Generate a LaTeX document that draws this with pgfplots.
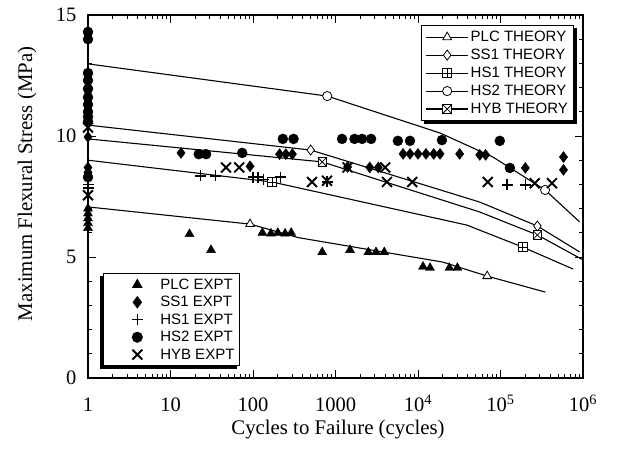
\documentclass[border=0pt]{standalone}
\usepackage{fontspec}
\setmainfont{Liberation Serif}
\setsansfont{Liberation Sans}
\usepackage{pgfplots}
\pgfplotsset{compat=1.18}

\pgfdeclareplotmark{sqplus}{%
 \pgfpathrectangle{\pgfqpoint{-\pgfplotmarksize}{-\pgfplotmarksize}}{\pgfqpoint{2\pgfplotmarksize}{2\pgfplotmarksize}}%
 \pgfusepathqfillstroke
 \pgfpathmoveto{\pgfqpoint{-\pgfplotmarksize}{0pt}}\pgfpathlineto{\pgfqpoint{\pgfplotmarksize}{0pt}}%
 \pgfpathmoveto{\pgfqpoint{0pt}{-\pgfplotmarksize}}\pgfpathlineto{\pgfqpoint{0pt}{\pgfplotmarksize}}%
 \pgfusepathqstroke}
\pgfdeclareplotmark{sqx}{%
 \pgfpathrectangle{\pgfqpoint{-\pgfplotmarksize}{-\pgfplotmarksize}}{\pgfqpoint{2\pgfplotmarksize}{2\pgfplotmarksize}}%
 \pgfusepathqfillstroke
 \pgfpathmoveto{\pgfqpoint{-\pgfplotmarksize}{-\pgfplotmarksize}}\pgfpathlineto{\pgfqpoint{\pgfplotmarksize}{\pgfplotmarksize}}%
 \pgfpathmoveto{\pgfqpoint{-\pgfplotmarksize}{\pgfplotmarksize}}\pgfpathlineto{\pgfqpoint{\pgfplotmarksize}{-\pgfplotmarksize}}%
 \pgfusepathqstroke}

\begin{document}
\begin{tikzpicture}
\begin{axis}[scale only axis, width=495pt, height=363pt, xmode=log,
  xmin=1, xmax=1e6, ymin=0, ymax=15, name=main,
  xtick={1,10,100,1000,10000,100000,1000000},
  xticklabels={1,10,100,1000,10\textsuperscript{4},10\textsuperscript{5},10\textsuperscript{6}},
  ytick={0,5,10,15}, yticklabels={0,5,10,15},
  minor y tick num=4,
  tick label style={font=\fontsize{20.5}{20.5}\selectfont},
  xticklabel style={text height=14pt, text depth=0pt},
  xticklabel shift=16pt,
  yticklabel shift=8pt,
  axis line style={line width=1.3pt},
  tick style={black, line width=0.8pt},
  major tick length=8pt, minor tick length=4pt,
  every axis x label/.style={at={(axis description cs:0.505,-0.143)}, anchor=center, font=\fontsize{20.8}{21}\selectfont},
  every axis y label/.style={at={(axis description cs:-0.1232,0.535)}, rotate=90, anchor=center, font=\fontsize{20.8}{21}\selectfont},
  xlabel={Cycles to Failure (cycles)},
  ylabel={Maximum Flexural Stress (MPa)},
  legend image code/.code={\draw[mark repeat=2,mark phase=2,#1] plot coordinates {(0pt,0pt)(21pt,0pt)(42pt,0pt)};},
  legend style={name=legA, at={(0.673,0.972)}, anchor=north west, draw=black, line width=1pt, fill=white,
    font=\fontsize{15}{17}\sffamily, row sep=2pt, inner xsep=4pt, inner ysep=3.5pt},
  legend cell align=left,
]
\addplot[black, line width=1.1pt, mark options={fill=white, solid, line width=0.8pt}, mark=triangle*, mark size=5pt, mark indices={2,5}] coordinates {
 (1,7.07) (92,6.36) (355,5.8) (20000,4.79) (69000,4.21) (350000,3.55)};
\addlegendentry{PLC THEORY}
\addplot[black, line width=1.1pt, mark options={fill=white, solid, line width=0.8pt}, mark=diamond*, mark size=5pt, mark indices={2,4}] coordinates {
 (1,10.45) (500,9.42) (56000,7.27) (280000,6.28) (910000,5.21)};
\addlegendentry{SS1 THEORY}
\addplot[black, line width=1.1pt, mark options={fill=white, solid, line width=0.8pt}, mark=sqplus, mark size=4.3pt, mark indices={2,4}] coordinates {
 (1,9.0) (170,8.1) (39000,6.32) (186000,5.41) (760000,4.5)};
\addlegendentry{HS1 THEORY}
\addplot[black, line width=1.1pt, mark options={fill=white, solid, line width=0.8pt}, mark=*, mark size=4.6pt, mark indices={2,5}] coordinates {
 (1,12.98) (794,11.65) (18600,10.12) (81000,9.13) (347000,7.77) (910000,6.45)};
\addlegendentry{HS2 THEORY}
\addplot[black, line width=1.1pt, mark options={fill=white, solid, line width=0.8pt}, mark=sqx, mark size=4.3pt, mark indices={2,4}] coordinates {
 (1,9.88) (690,8.93) (56000,6.86) (280000,5.91) (1000000,4.88)};
\addlegendentry{HYB THEORY}
\end{axis}

\begin{axis}[scale only axis, width=495pt, height=363pt, xmode=log,
  xmin=1, xmax=1e6, ymin=0, ymax=15, hide axis,
  legend image code/.code={\path (0pt,0pt) (50pt,0pt); \draw[#1] plot coordinates {(30pt,0pt)};},
  legend style={name=legB, at={(0.03,0.033)}, anchor=south west, draw=black, line width=1pt, fill=white,
    font=\fontsize{15}{17}\sffamily, row sep=1.5pt, inner xsep=3pt, inner ysep=3pt},
  legend cell align=left,
]
\addplot[only marks, black, mark=triangle*, mark size=5.2pt] coordinates {
 (1,7.0) (1,6.8) (1,6.6) (1,6.4) (1,6.2)
 (17,5.95) (31,5.29) (130,6.0) (165,5.97) (200,6.0) (245,5.97) (290,6.0)
 (690,5.2) (1500,5.29) (2500,5.2) (3100,5.2) (3900,5.2)
 (11500,4.6) (14000,4.55) (24000,4.55) (30000,4.55)};
\addlegendentry{PLC EXPT}
\addplot[only marks, black, mark=diamond*, mark size=5.5pt] coordinates {
 (1,9.96) (1,8.7) (1,8.5)
 (13.4,9.3) (92,8.75) (210,9.25) (250,9.25) (300,9.25)
 (1400,8.72) (2600,8.7) (3300,8.7)
 (6600,9.26) (8000,9.26) (10000,9.26) (12500,9.26) (15500,9.26) (18500,9.26)
 (32000,9.26) (56000,9.22) (66000,9.22) (200000,8.68) (580000,9.13) (580000,8.6)};
\addlegendentry{SS1 EXPT}
\addplot[only marks, black, mark=+, mark size=5.5pt, line width=1.4pt] coordinates {
 (1,8.0) (1,7.85)
 (23,8.35) (35,8.35) (100,8.3) (115,8.3) (135,8.2) (215,8.3)
 (790,8.1) (120000,7.98) (200000,7.98)};
\addlegendentry{HS1 EXPT}
\addplot[only marks, black, mark=*, mark size=5pt] coordinates {
 (1,14.3) (1,14.0) (1,12.6) (1,12.3) (1,11.95) (1,11.6) (1,11.3) (1,11.0) (1,10.8) (1,10.6) (1,8.3)
 (22,9.25) (27,9.25) (74,9.3) (230,9.88) (310,9.88)
 (1200,9.88) (1700,9.88) (2100,9.88) (2700,9.88) (5700,9.8) (8000,9.8)
 (19500,9.83) (98000,9.8) (130000,8.68)};
\addlegendentry{HS2 EXPT}
\addplot[only marks, black, mark=x, mark size=7pt, line width=1.9pt] coordinates {
 (1,10.35) (1,7.55)
 (47,8.7) (68,8.7) (520,8.1) (790,8.15) (1400,8.7) (4000,8.7) (4200,8.1) (8500,8.1)
 (70000,8.1) (260000,8.05) (420000,8.05)};
\addlegendentry{HYB EXPT}
\end{axis}
\fill ([xshift=2.5pt]legA.south west) rectangle ([xshift=2.5pt,yshift=-2.5pt]legA.south east);
\fill ([yshift=-2.5pt]legA.north east) rectangle ([xshift=2.5pt,yshift=-2.5pt]legA.south east);
\fill ([xshift=-2.5pt]legB.south east) rectangle ([xshift=-2.5pt,yshift=-2.5pt]legB.south west);
\fill ([yshift=-2.5pt]legB.north west) rectangle ([xshift=-2.5pt,yshift=-2.5pt]legB.south west);
\pgfresetboundingbox
\path[use as bounding box] (main.south west) ++(-88pt,-70pt) rectangle ++(631pt,448pt);
\end{tikzpicture}
\end{document}
